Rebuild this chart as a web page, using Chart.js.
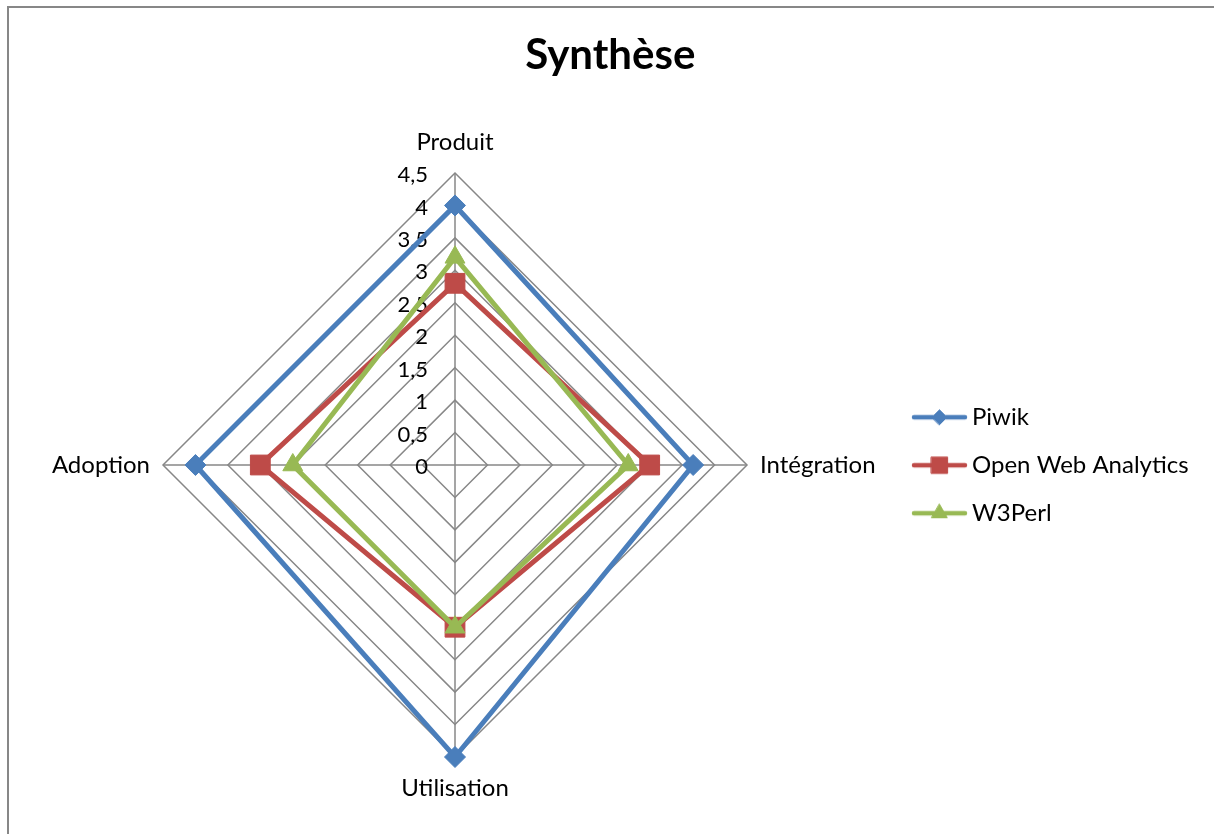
<!DOCTYPE html>
<html>
<head>
<meta charset="utf-8">
<script src="https://cdn.jsdelivr.net/npm/chart.js@4.4.1/dist/chart.umd.min.js"></script>
<style>
  html, body { margin: 0; padding: 0; background: #fff; overflow: hidden; }
  #frame { position: absolute; left: 7px; top: 6px; width: 1400px; height: 1000px; border: 2px solid #878787; }
  #chart { position: absolute; left: 0; top: 0; }
</style>
</head>
<body>
<div id="frame"></div>
<canvas id="chart" width="1214" height="834"></canvas>
<script>
// data
const categories = ['Produit', 'Intégration', 'Utilisation', 'Adoption'];
const seriesNames = ['Piwik', 'Open Web Analytics', 'W3Perl'];
const piwikValues = [4, 3.67, 4.5, 4];
const owaValues = [2.8, 3, 2.5, 3];
const w3perlValues = [3.2, 2.67, 2.5, 2.5];
const tickLabels = ['0', '0,5', '1', '1,5', '2', '2,5', '3', '3,5', '4', '4,5'];

const FONT = 'Lato';
const LABEL_SIZE = 24;

// legend icon: short line with the marker in the middle, like Excel
function legendIcon(color, style, radius) {
  const c = document.createElement('canvas');
  c.width = 64;
  c.height = 24;
  const ctx = c.getContext('2d');
  ctx.strokeStyle = color;
  ctx.lineWidth = 4.5;
  ctx.lineCap = 'round';
  ctx.beginPath();
  ctx.moveTo(10, 12);
  ctx.lineTo(61, 12);
  ctx.stroke();
  ctx.fillStyle = color;
  ctx.lineWidth = 1;
  Chart.helpers.drawPoint(ctx, { pointStyle: style, radius: radius, borderWidth: 1, rotation: 0 }, 35.5, 12);
  return c;
}

const icons = [
  legendIcon('#4A7EBB', 'rectRot', 7.5),
  legendIcon('#BE4B48', 'rect', 11.5),
  legendIcon('#98B954', 'triangle', 9)
];

// make the legend start at x=888 so the radar centre sits at x=455
const measure = document.createElement('canvas').getContext('2d');
measure.font = LABEL_SIZE + 'px ' + FONT;
const widest = Math.max(...seriesNames.map(n => measure.measureText(n).width));
const legendWidth = 24 + 48 + LABEL_SIZE / 2 + widest + 10;
const padRight = Math.max(0, 1214 - 888 - legendWidth);

// ticks and category labels drawn next to the axis, as Excel does
const axisText = {
  id: 'axisText',
  beforeDatasetsDraw(chart) {
    const scale = chart.scales.r;
    const ctx = chart.ctx;
    ctx.save();
    ctx.fillStyle = '#000';
    ctx.font = '22px ' + FONT;
    ctx.textAlign = 'right';
    ctx.textBaseline = 'middle';
    scale.ticks.forEach((t, i) => {
      const d = scale.getDistanceFromCenterForValue(t.value);
      ctx.fillText(tickLabels[i] || t.label, scale.xCenter - 27, scale.yCenter - d + 2);
    });
    ctx.restore();
  },
  afterDraw(chart) {
    const scale = chart.scales.r;
    const ctx = chart.ctx;
    ctx.save();
    ctx.fillStyle = '#000';
    ctx.font = LABEL_SIZE + 'px ' + FONT;
    ctx.textBaseline = 'middle';
    categories.forEach((label, i) => {
      const s = Math.sin(scale.getIndexAngle(i));
      let pos;
      if (Math.abs(s) < 0.01) {
        pos = scale.getPointPosition(i, scale.drawingArea + 31);
        ctx.textAlign = 'center';
      } else {
        pos = scale.getPointPosition(i, scale.drawingArea + 13);
        ctx.textAlign = s > 0 ? 'left' : 'right';
      }
      ctx.fillText(label, pos.x, pos.y);
    });
    ctx.restore();
  }
};

function series(label, values, color, marker, radius, order) {
  return {
    label: label,
    data: values,
    borderColor: color,
    backgroundColor: color,
    borderWidth: 5,
    fill: false,
    pointStyle: marker,
    pointRadius: radius,
    pointHoverRadius: radius,
    pointBorderWidth: 1,
    pointBackgroundColor: color,
    pointBorderColor: color,
    order: order
  };
}

new Chart(document.getElementById('chart'), {
  type: 'radar',
  data: {
    labels: categories,
    datasets: [
      series(seriesNames[0], piwikValues, '#4A7EBB', 'rectRot', 10.5, 3),
      series(seriesNames[1], owaValues, '#BE4B48', 'rect', 14, 2),
      series(seriesNames[2], w3perlValues, '#98B954', 'triangle', 11.5, 1)
    ]
  },
  options: {
    responsive: false,
    animation: false,
    layout: { padding: { left: 22, right: padRight, top: 0, bottom: 76 } },
    elements: { line: { tension: 0 } },
    scales: {
      r: {
        min: 0,
        max: 4.5,
        ticks: {
          stepSize: 0.5,
          display: false,
          callback: (v, i) => tickLabels[i]
        },
        pointLabels: { display: false },
        grid: { color: '#878787', lineWidth: 1.5 },
        angleLines: { color: '#878787', lineWidth: 1.5 }
      }
    },
    plugins: {
      title: {
        display: true,
        text: 'Synthèse',
        color: '#000',
        font: { family: FONT, size: 42, weight: 'bold' },
        padding: { top: 30, bottom: 92 }
      },
      legend: {
        position: 'right',
        fullSize: false,
        labels: {
          color: '#000',
          font: { family: FONT, size: LABEL_SIZE },
          padding: 24,
          usePointStyle: true,
          pointStyleWidth: 48,
          sort: (a, b) => a.datasetIndex - b.datasetIndex,
          generateLabels(chart) {
            const items = Chart.defaults.plugins.legend.labels.generateLabels(chart);
            items.forEach(it => { it.pointStyle = icons[it.datasetIndex]; });
            return items;
          }
        }
      },
      tooltip: { enabled: false }
    }
  },
  plugins: [axisText]
});
</script>
</body>
</html>
